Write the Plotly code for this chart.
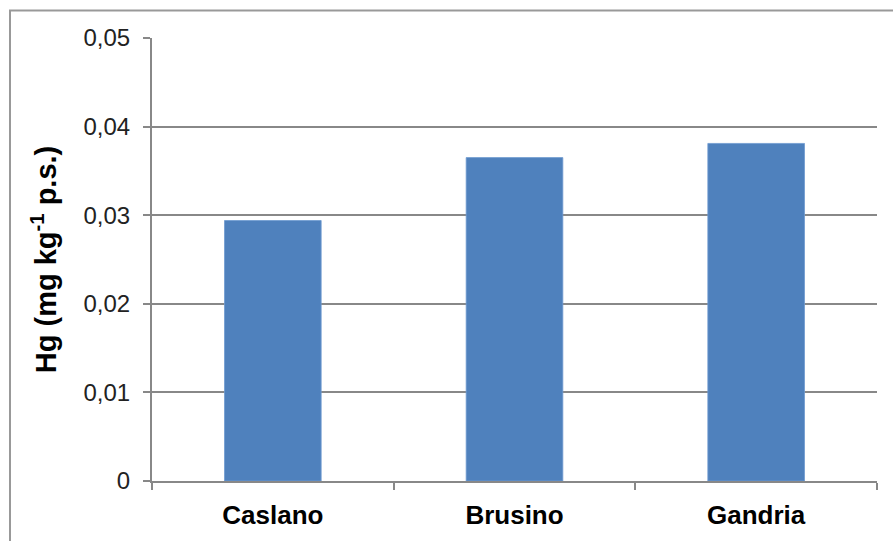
import plotly.graph_objects as go

sites = ["Caslano", "Brusino", "Gandria"]
hg_values = [0.0294, 0.0365, 0.0381]
y_tick_vals = [0, 0.01, 0.02, 0.03, 0.04, 0.05]
y_tick_text = ["0", "0,01", "0,02", "0,03", "0,04", "0,05"]

W, H = 893, 541
L, R, T, B = 152, 16, 38, 60
pw, ph = W - L - R, H - T - B

FONT = "Liberation Sans, Arial, sans-serif"

fig = go.Figure()
fig.add_trace(go.Bar(
    x=sites, y=hg_values,
    marker=dict(color="#4F81BD", line=dict(color="#6F9BD0", width=0.8)),
    width=0.4,
))

grid = "#888888"
fig.update_layout(
    width=W, height=H,
    margin=dict(l=L, r=R, t=T, b=B, pad=0),
    paper_bgcolor="white", plot_bgcolor="white",
    showlegend=False,
    font=dict(family=FONT, color="#000000"),
    xaxis=dict(
        type="category",
        tickvals=sites,
        ticktext=["<b>%s</b>" % s for s in sites],
        showgrid=False,
        showline=True, linecolor=grid, linewidth=2,
        ticks="outside", tickson="boundaries", ticklen=7, tickwidth=2, tickcolor=grid,
        tickfont=dict(size=26, family=FONT, color="#000000"),
        ticklabelstandoff=10,
        zeroline=False,
    ),
    yaxis=dict(
        range=[0, 0.05],
        tickvals=y_tick_vals, ticktext=y_tick_text,
        showgrid=True, gridcolor=grid, gridwidth=2,
        showline=True, linecolor=grid, linewidth=2,
        ticks="outside", ticklen=7, tickwidth=2, tickcolor=grid,
        tickfont=dict(size=24, family=FONT, color="#222222"),
        ticklabelstandoff=8,
        zeroline=False,
        title=dict(text="<b>Hg (mg kg<sup>-1</sup> p.s.)</b>",
                   font=dict(size=29, family=FONT, color="#000000"), standoff=18),
    ),
)

# outer chart border
fig.add_shape(
    type="rect", xref="paper", yref="paper",
    x0=(10 - L) / pw, x1=(W + 20 - L) / pw,
    y0=-(H + 20 - T - ph) / ph, y1=(H - B - 10.5) / ph,
    line=dict(color="#999999", width=2), fillcolor="rgba(0,0,0,0)", layer="below",
)

fig.write_html("out.html")
